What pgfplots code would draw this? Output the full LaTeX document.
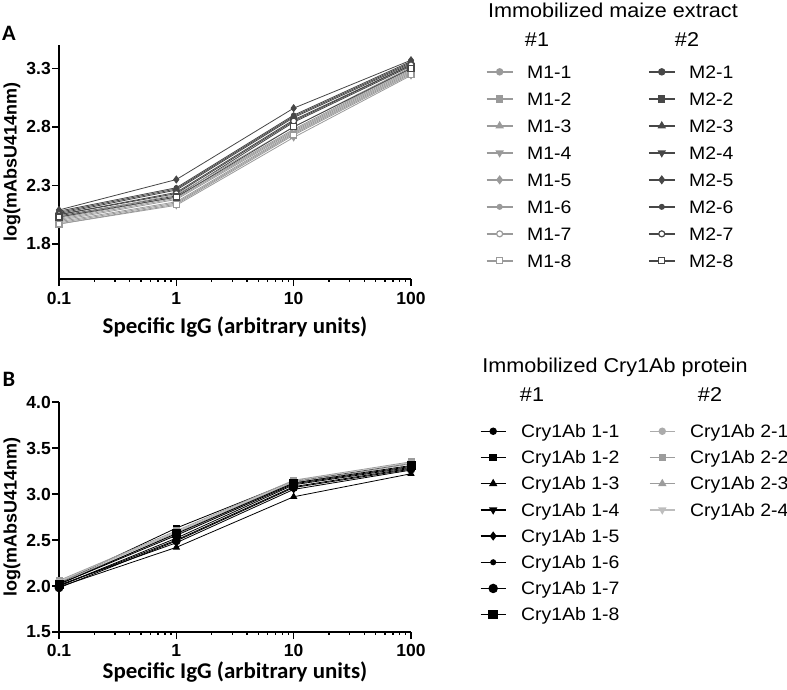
\documentclass[border=0pt]{standalone}
\usepackage{pgfplots}
\pgfplotsset{compat=1.18}
\usepackage{fontspec}
\setmainfont{Liberation Sans}
\newfontfamily\legfont[FakeStretch=1.08]{Liberation Sans}
\newfontfamily\carl[FakeStretch=1.02]{Carlito}
\definecolor{lg}{HTML}{9A9A9A}
\definecolor{dg}{HTML}{474747}
\definecolor{g1}{HTML}{ABABAB}
\definecolor{g2}{HTML}{9C9C9C}
\definecolor{g4}{HTML}{BDBDBD}
\begin{document}
\begin{tikzpicture}[x=1pt,y=1pt]
\useasboundingbox (0,0) rectangle (787,689);
\node[font=\carl\bfseries\fontsize{22}{22}\selectfont] at (9,656) {A};
\node[font=\carl\bfseries\fontsize{22}{22}\selectfont] at (9,310) {B};
\node[font=\legfont\fontsize{20}{20}\selectfont] at (613,679) {Immobilized maize extract};
\node[font=\legfont\fontsize{20}{20}\selectfont] at (537,649) {\#1};
\node[font=\legfont\fontsize{20}{20}\selectfont] at (687,649) {\#2};
\node[font=\legfont\fontsize{20}{20}\selectfont] at (615,322) {Immobilized Cry1Ab protein};
\node[font=\legfont\fontsize{20}{20}\selectfont] at (532,294) {\#1};
\node[font=\legfont\fontsize{20}{20}\selectfont] at (710,294) {\#2};

\begin{axis}[at={(59pt,410pt)}, anchor=south west, scale only axis, width=352pt, height=234pt,
  xmode=log, xmin=0.1, xmax=100,
  axis x line*=bottom, axis y line*=left,
  axis line style={line width=1.8pt},
  tick style={line width=1.5pt, black},
  major tick length=7pt, tick align=outside,
  xtick={0.1,1,10,100}, xticklabels={0.1,1,10,100},
  minor xtick={}, minor ytick={},
  tick label style={font=\bfseries\fontsize{17.5}{17.5}\selectfont},
  yticklabel style={inner xsep=1pt},
  xticklabel style={yshift=-3pt},
  ymin=1.5, ymax=3.5, ytick={1.8,2.3,2.8,3.3}, yticklabels={1.8,2.3,2.8,3.3},
  xlabel={Specific IgG (arbitrary units)},
  ylabel={log(mAbsU414nm)},
  xlabel style={font=\carl\bfseries\fontsize{22.5}{22.5}\selectfont, anchor=center, at={(axis description cs:0.5,-0.205)}},
  ylabel style={font=\bfseries\fontsize{18}{18}\selectfont, anchor=center, at={(axis description cs:-0.1335,0.5)}},
  legend columns=2,
  legend cell align=left,
  legend style={draw=none, fill=none, inner sep=0pt, outer sep=0pt, anchor=north west,
      at={(axis description cs:1.213,0.912)},
      font=\legfont\fontsize{18}{18}\selectfont,
      nodes={inner sep=0pt, text height=12.5pt, text depth=0pt},
      row sep=14.5pt},
  legend image code/.code={\path (0pt,0pt) (40pt,0pt);\draw[line width=1.4pt, mark repeat=2, mark phase=2] plot coordinates {(0pt,0pt)(13pt,0pt)(26pt,0pt)};},
]
\addplot[line width=0.8pt, color=lg, mark=*, mark size=3pt] coordinates {(0.1,2.00) (1,2.18) (10,2.76) (100,3.28)};
\addlegendentry{\makebox[121pt][l]{M1-1}}
\addplot[line width=0.8pt, color=dg, mark=*, mark size=3pt] coordinates {(0.1,2.06) (1,2.26) (10,2.88) (100,3.34)};
\addlegendentry{M2-1}
\addplot[line width=0.8pt, color=lg, mark=square*, mark size=3pt] coordinates {(0.1,1.98) (1,2.15) (10,2.74) (100,3.26)};
\addlegendentry{\makebox[121pt][l]{M1-2}}
\addplot[line width=0.8pt, color=dg, mark=square*, mark size=3pt] coordinates {(0.1,2.04) (1,2.21) (10,2.84) (100,3.32)};
\addlegendentry{M2-2}
\addplot[line width=0.8pt, color=lg, mark=triangle*, mark size=3.5pt] coordinates {(0.1,2.02) (1,2.20) (10,2.78) (100,3.30)};
\addlegendentry{\makebox[121pt][l]{M1-3}}
\addplot[line width=0.8pt, color=dg, mark=triangle*, mark size=3.5pt] coordinates {(0.1,2.07) (1,2.27) (10,2.89) (100,3.35)};
\addlegendentry{M2-3}
\addplot[line width=0.8pt, color=lg, mark=triangle*, mark size=3.5pt, mark options={rotate=180}] coordinates {(0.1,1.97) (1,2.13) (10,2.71) (100,3.24)};
\addlegendentry{\makebox[121pt][l]{M1-4}}
\addplot[line width=0.8pt, color=dg, mark=triangle*, mark size=3.5pt, mark options={rotate=180}] coordinates {(0.1,2.05) (1,2.24) (10,2.86) (100,3.33)};
\addlegendentry{M2-4}
\addplot[line width=0.8pt, color=lg, mark=diamond*, mark size=3.5pt] coordinates {(0.1,2.03) (1,2.22) (10,2.80) (100,3.31)};
\addlegendentry{\makebox[121pt][l]{M1-5}}
\addplot[line width=0.8pt, color=dg, mark=diamond*, mark size=3.5pt] coordinates {(0.1,2.09) (1,2.35) (10,2.96) (100,3.37)};
\addlegendentry{M2-5}
\addplot[line width=0.8pt, color=lg, mark=*, mark size=2.3pt] coordinates {(0.1,2.01) (1,2.19) (10,2.77) (100,3.29)};
\addlegendentry{\makebox[121pt][l]{M1-6}}
\addplot[line width=0.8pt, color=dg, mark=*, mark size=2.3pt] coordinates {(0.1,2.08) (1,2.28) (10,2.90) (100,3.36)};
\addlegendentry{M2-6}
\addplot[line width=0.8pt, color=lg, mark=*, mark size=3pt, mark options={fill=white, line width=1.2pt}] coordinates {(0.1,1.99) (1,2.16) (10,2.75) (100,3.27)};
\addlegendentry{\makebox[121pt][l]{M1-7}}
\addplot[line width=0.8pt, color=dg, mark=*, mark size=3pt, mark options={fill=white, line width=1.2pt}] coordinates {(0.1,2.05) (1,2.23) (10,2.85) (100,3.33)};
\addlegendentry{M2-7}
\addplot[line width=0.8pt, color=lg, mark=square*, mark size=3pt, mark options={fill=white, line width=1.2pt}] coordinates {(0.1,1.97) (1,2.14) (10,2.73) (100,3.25)};
\addlegendentry{\makebox[121pt][l]{M1-8}}
\addplot[line width=0.8pt, color=dg, mark=square*, mark size=3pt, mark options={fill=white, line width=1.2pt}] coordinates {(0.1,2.03) (1,2.20) (10,2.80) (100,3.30)};
\addlegendentry{M2-8}
\end{axis}

\begin{axis}[at={(59pt,57pt)}, anchor=south west, scale only axis, width=352pt, height=230pt,
  xmode=log, xmin=0.1, xmax=100,
  axis x line*=bottom, axis y line*=left,
  axis line style={line width=1.8pt},
  tick style={line width=1.5pt, black},
  major tick length=7pt, tick align=outside,
  xtick={0.1,1,10,100}, xticklabels={0.1,1,10,100},
  minor xtick={}, minor ytick={},
  tick label style={font=\bfseries\fontsize{17.5}{17.5}\selectfont},
  yticklabel style={inner xsep=1pt},
  xticklabel style={yshift=-2pt},
  ymin=1.5, ymax=4.0, ytick={1.5,2.0,2.5,3.0,3.5,4.0}, yticklabels={1.5,2.0,2.5,3.0,3.5,4.0},
  xlabel={Specific IgG (arbitrary units)},
  ylabel={log(mAbsU414nm)},
  xlabel style={font=\carl\bfseries\fontsize{22.5}{22.5}\selectfont, anchor=center, at={(axis description cs:0.5,-0.172)}},
  ylabel style={font=\bfseries\fontsize{18}{18}\selectfont, anchor=center, at={(axis description cs:-0.1335,0.5)}},
  legend columns=2,
  legend cell align=left,
  legend style={draw=none, fill=none, inner sep=0pt, outer sep=0pt, anchor=north west,
      at={(axis description cs:1.196,0.90)},
      font=\legfont\fontsize{18}{18}\selectfont,
      nodes={inner sep=0pt, text height=12.5pt, text depth=0pt},
      row sep=13.7pt},
  legend image code/.code={\path (0pt,0pt) (40pt,0pt);\draw[line width=1.4pt, mark repeat=2, mark phase=2] plot coordinates {(0pt,0pt)(12.5pt,0pt)(25pt,0pt)};},
]
\addplot[line width=0.8pt, color=black, mark=*, mark size=3pt] coordinates {(0.1,2.00) (1,2.50) (10,3.08) (100,3.28)};
\addlegendentry{\makebox[128pt][l]{Cry1Ab 1-1}}
\addplot[line width=0.8pt, color=g1, mark=*, mark size=3pt] coordinates {(0.1,2.05) (1,2.58) (10,3.13) (100,3.34)};
\addlegendentry{Cry1Ab 2-1}
\addplot[line width=0.8pt, color=black, mark=square*, mark size=3pt] coordinates {(0.1,2.03) (1,2.63) (10,3.14) (100,3.33)};
\addlegendentry{\makebox[128pt][l]{Cry1Ab 1-2}}
\addplot[line width=0.8pt, color=g2, mark=square*, mark size=3pt] coordinates {(0.1,2.06) (1,2.60) (10,3.15) (100,3.35)};
\addlegendentry{Cry1Ab 2-2}
\addplot[line width=0.8pt, color=black, mark=triangle*, mark size=3.5pt] coordinates {(0.1,1.99) (1,2.42) (10,2.97) (100,3.22)};
\addlegendentry{\makebox[128pt][l]{Cry1Ab 1-3}}
\addplot[line width=0.8pt, color=g2, mark=triangle*, mark size=3.5pt] coordinates {(0.1,2.04) (1,2.56) (10,3.12) (100,3.33)};
\addlegendentry{Cry1Ab 2-3}
\addplot[line width=0.8pt, color=black, mark=triangle*, mark size=3.5pt, mark options={rotate=180}] coordinates {(0.1,2.01) (1,2.47) (10,3.05) (100,3.26)};
\addlegendentry{\makebox[128pt][l]{Cry1Ab 1-4}}
\addplot[line width=0.8pt, color=g4, mark=triangle*, mark size=3.5pt, mark options={rotate=180}] coordinates {(0.1,2.05) (1,2.59) (10,3.14) (100,3.34)};
\addlegendentry{Cry1Ab 2-4}
\addplot[line width=0.8pt, color=black, mark=diamond*, mark size=3.5pt] coordinates {(0.1,2.02) (1,2.55) (10,3.11) (100,3.30)};
\addlegendentry{\makebox[128pt][l]{Cry1Ab 1-5}}
\addlegendimage{empty legend}\addlegendentry{}
\addplot[line width=0.8pt, color=black, mark=*, mark size=2.3pt] coordinates {(0.1,2.00) (1,2.52) (10,3.10) (100,3.29)};
\addlegendentry{\makebox[128pt][l]{Cry1Ab 1-6}}
\addlegendimage{empty legend}\addlegendentry{}
\addplot[line width=0.8pt, color=black, mark=*, mark size=4pt] coordinates {(0.1,1.98) (1,2.49) (10,3.07) (100,3.27)};
\addlegendentry{\makebox[128pt][l]{Cry1Ab 1-7}}
\addlegendimage{empty legend}\addlegendentry{}
\addplot[line width=0.8pt, color=black, mark=square*, mark size=4pt] coordinates {(0.1,2.02) (1,2.57) (10,3.12) (100,3.31)};
\addlegendentry{\makebox[128pt][l]{Cry1Ab 1-8}}
\end{axis}
\end{tikzpicture}
\end{document}
